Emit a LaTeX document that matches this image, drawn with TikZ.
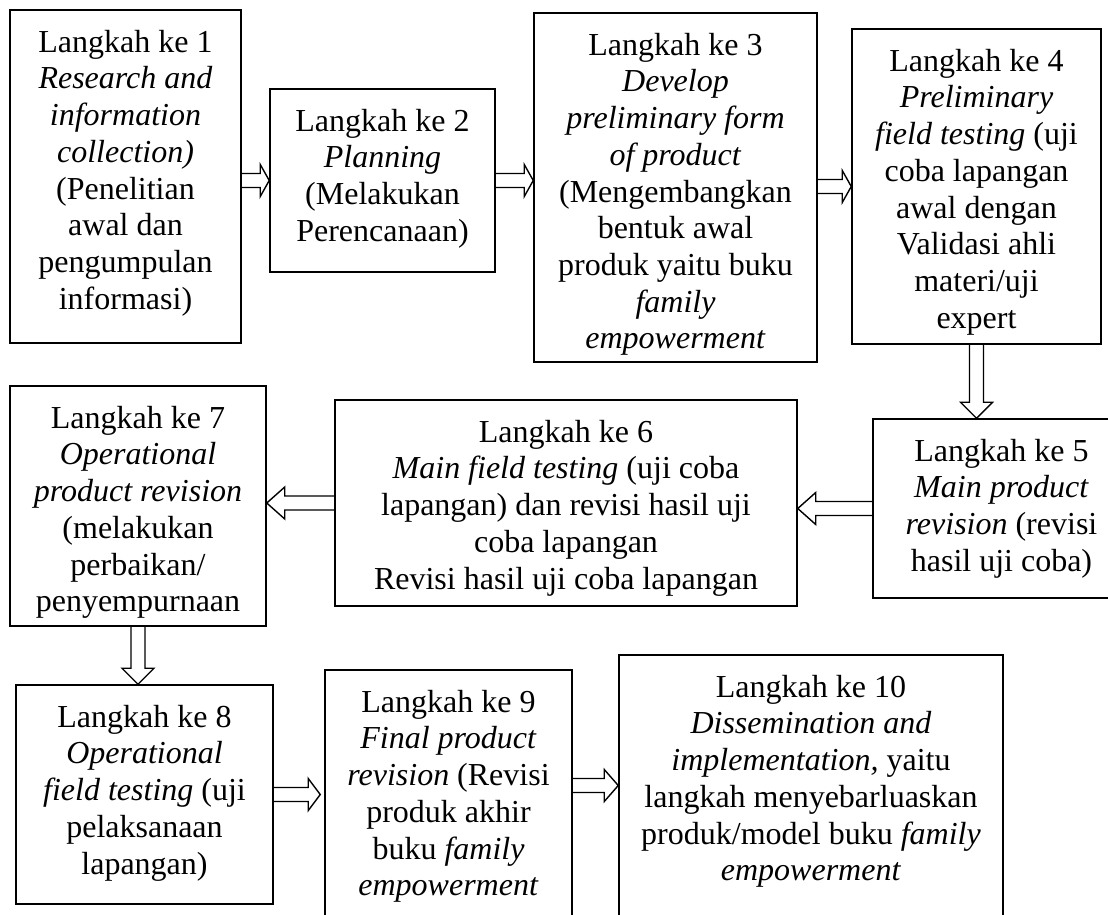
\documentclass[tikz,border=0pt]{standalone}
\usepackage{fontspec}
\setmainfont{Liberation Serif}
\usetikzlibrary{calc}
\newcommand{\steptext}[3]{\parbox[c][\dimexpr#2pt-40pt\relax][t]{#1pt}{\centering #3}}
\tikzstyle{stepbox} = [rectangle, draw=black, line width=1.5pt, inner xsep=0pt, inner ysep=20pt, font=\fontsize{32}{36.7}\selectfont]
\tikzset{headlen/.store in=\headlen, headlen=9pt}
\tikzstyle{hollow} = [draw=black, line width=1.4pt, line join=miter, to path={
  ($(\tikztostart)!7pt!90:(\tikztotarget)$)
  -- ($(\tikztotarget)!\headlen!(\tikztostart)!7pt!-90:(\tikztostart)$)
  -- ($(\tikztotarget)!\headlen!(\tikztostart)!16pt!-90:(\tikztostart)$)
  -- (\tikztotarget)
  -- ($(\tikztotarget)!\headlen!(\tikztostart)!16pt!90:(\tikztostart)$)
  -- ($(\tikztotarget)!\headlen!(\tikztostart)!7pt!90:(\tikztostart)$)
  -- ($(\tikztostart)!7pt!-90:(\tikztotarget)$)}]

\begin{document}
\begin{tikzpicture}[x=1pt, y=-1pt]
\useasboundingbox (0,0) rectangle (1108,915);
\clip (0,0) rectangle (1108,915);
\fill[white] (0,0) rectangle (1108,915);

% Nodes
\node[stepbox] (s1) at (125.5,176.5) {\steptext{231}{333}{Langkah ke 1\\ \textit{Research and}\\ \textit{information}\\ \textit{collection)}\\ (Penelitian\\ awal dan\\ pengumpulan\\ informasi)}};
\node[stepbox] (s2) at (382.5,180.5) {\steptext{225}{183}{Langkah ke 2\\ \textit{Planning}\\ (Melakukan\\ Perencanaan)}};
\node[stepbox] (s3) at (675.5,187.5) {\steptext{283}{349}{Langkah ke 3\\ \textit{Develop}\\ \textit{preliminary form}\\ \textit{of product}\\ (Mengembangkan\\ bentuk awal\\ produk yaitu buku\\ \textit{family}\\ \textit{empowerment}}};
\node[stepbox] (s4) at (976.5,186.5) {\steptext{249}{315}{Langkah ke 4\\ \textit{Preliminary}\\ \textit{field testing} (uji\\ coba lapangan\\ awal dengan\\ Validasi ahli\\ materi/uji\\ expert}};
\node[stepbox] (s5) at (1001.5,508.5) {\steptext{257}{179}{Langkah ke 5\\ \textit{Main product}\\ \textit{revision} (revisi\\ hasil uji coba)}};
\node[stepbox] (s6) at (566,503) {\steptext{462}{206}{Langkah ke 6\\ \textit{Main field testing} (uji coba\\ lapangan) dan revisi hasil uji\\ coba lapangan\\ Revisi hasil uji coba lapangan}};
\node[stepbox] (s7) at (138,506) {\steptext{256}{240}{Langkah ke 7\\ \textit{Operational}\\ \textit{product revision}\\ (melakukan\\ perbaikan/\\ penyempurnaan}};
\node[stepbox] (s8) at (144.5,794.5) {\steptext{257}{219}{Langkah ke 8\\ \textit{Operational}\\ \textit{field testing} (uji\\ pelaksanaan\\ lapangan)}};
\node[stepbox] (s9) at (448.5,800) {\steptext{247}{260}{Langkah ke 9\\ \textit{Final product}\\ \textit{revision} (Revisi\\ produk akhir\\ buku \textit{family}\\ \textit{empowerment}}};
\node[stepbox] (s10) at (811,795) {\steptext{384}{280}{Langkah ke 10\\ \textit{Dissemination and}\\ \textit{implementation,} yaitu\\ langkah menyebarluaskan\\ produk/model buku \textit{family}\\ \textit{empowerment}}};

% Arrows
\draw[hollow] (s1.east |- s2) to (s2.west);
\draw[hollow] (s2.east) to (s2.east -| s3.west);
\draw[hollow] (s3.east |- s4) to (s4.west);
\draw[hollow, headlen=16pt] (s4.south) to (s4.south |- s5.north);
\draw[hollow, headlen=18pt] (s5.west) to (s5.west -| s6.east);
\draw[hollow, headlen=18pt] (s6.west) to (s6.west -| s7.east);
\draw[hollow, headlen=16pt] (s7.south) to (s7.south |- s8.north);
\draw[hollow, headlen=12pt] (s8.east) to ([xshift=-4pt]s8.east -| s9.west);
\draw[hollow, headlen=14pt] ([yshift=14.5pt]s9.east) to ([yshift=14.5pt]s9.east -| s10.west);

\end{tikzpicture}
\end{document}
